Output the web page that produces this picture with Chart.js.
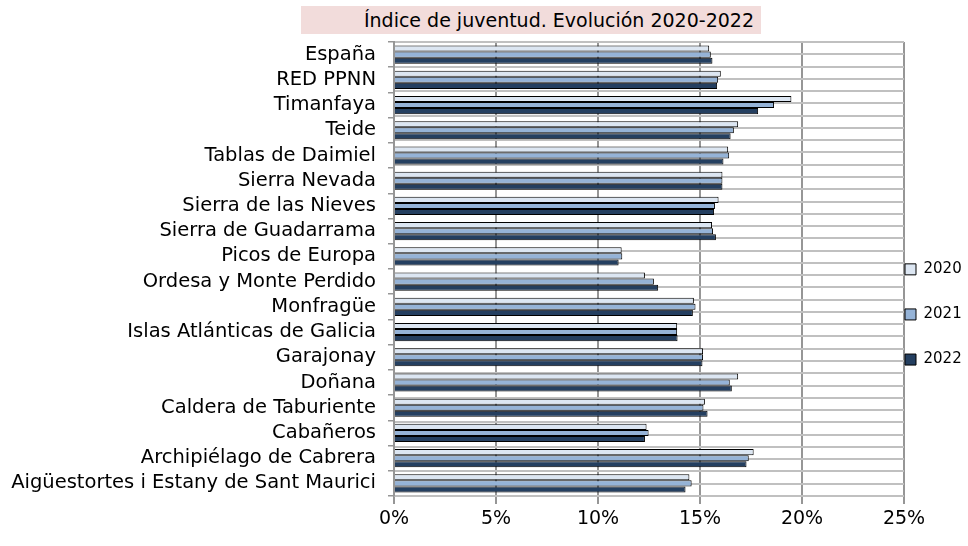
<!DOCTYPE html>
<html>
<head>
<meta charset="utf-8">
<script src="https://cdn.jsdelivr.net/npm/chart.js@4.4.0/dist/chart.umd.min.js"></script>
<style>
    html, body { margin: 0; padding: 0; background: #fff; }
    #wrap { position: relative; width: 968px; height: 546px; }
    #title {
        position: absolute; left: 301px; top: 6px; width: 453px; height: 28px;
        padding-right: 7px; background: #f2dcdb; color: #000;
        font-family: 'DejaVu Sans', sans-serif; font-size: 19px; line-height: 28px; text-align: right;
        white-space: nowrap;
    }
</style>
</head>
<body>
<div id="wrap">
    <canvas id="myChart" width="968" height="546"></canvas>
    <div id="title">Índice de juventud. Evolución 2020-2022</div>
</div>
<script>
// data (%)
let parks = ['España', 'RED PPNN', 'Timanfaya', 'Teide', 'Tablas de Daimiel', 'Sierra Nevada',
    'Sierra de las Nieves', 'Sierra de Guadarrama', 'Picos de Europa', 'Ordesa y Monte Perdido',
    'Monfragüe', 'Islas Atlánticas de Galicia', 'Garajonay', 'Doñana', 'Caldera de Taburiente',
    'Cabañeros', 'Archipiélago de Cabrera', 'Aigüestortes i Estany de Sant Maurici'];
let years = ['2020', '2021', '2022'];
let v2020 = [15.45, 16.02, 19.48, 16.87, 16.38, 16.10, 15.91, 15.59, 11.16, 12.30, 14.70, 13.88, 15.15, 16.87, 15.24, 12.38, 17.63, 14.48];
let v2021 = [15.53, 15.89, 18.63, 16.66, 16.43, 16.10, 15.73, 15.64, 11.19, 12.74, 14.78, 13.88, 15.15, 16.46, 15.17, 12.48, 17.39, 14.59];
let v2022 = [15.61, 15.84, 17.85, 16.50, 16.15, 16.10, 15.69, 15.78, 11.01, 12.95, 14.65, 13.90, 15.12, 16.56, 15.37, 12.30, 17.28, 14.29];
let xTicks = [0, 5, 10, 15, 20, 25];

let colors = ['#dce6f2', '#95b3d7', '#243f60'];
let fontFamily = "'DejaVu Sans', sans-serif";

let data = {
    labels: parks,
    datasets: [v2020, v2021, v2022].map(function (vals, k) {
        return {
            label: years[k],
            data: vals,
            backgroundColor: colors[k],
            borderColor: '#000',
            borderWidth: 1,
            categoryPercentage: 0.72,
            barPercentage: 1.0
        };
    })
};

let config = {
    type: 'bar',
    data: data,
    options: {
        responsive: false,
        animation: false,
        indexAxis: 'y',
        layout: { padding: { top: 42, left: 0, right: 0, bottom: 0 } },
        plugins: {
            tooltip: { enabled: false },
            legend: {
                position: 'right',
                maxWidth: 64,
                // empty title only pushes the items down
                title: { display: true, text: '', padding: 0, font: { size: 10, lineHeight: 7 } },
                labels: {
                    boxWidth: 11,
                    boxHeight: 11,
                    padding: 1,
                    color: '#000',
                    font: { family: fontFamily, size: 15, lineHeight: 2.94 },
                    generateLabels: function (chart) {
                        return Chart.defaults.plugins.legend.labels.generateLabels(chart).map(function (l) {
                            l.text = [l.text];
                            return l;
                        });
                    }
                }
            }
        },
        scales: {
            x: {
                min: 0,
                max: 25,
                afterBuildTicks: function (scale) {
                    scale.ticks = xTicks.map(function (v) { return { value: v }; });
                },
                afterFit: function (scale) { scale.height = 50; },
                ticks: {
                    color: '#000',
                    padding: 4,
                    font: { family: fontFamily, size: 19 },
                    callback: function (v) { return v + '%'; }
                },
                grid: { color: '#969696', lineWidth: 2, tickLength: 8 },
                border: { display: false }
            },
            y: {
                type: 'category',
                afterFit: function (scale) { scale.width = 394; },
                ticks: {
                    color: '#000',
                    padding: 12,
                    autoSkip: false,
                    font: { family: fontFamily, size: 19.5 }
                },
                grid: { offset: true, drawOnChartArea: false, color: '#969696', lineWidth: 1.5, tickLength: 6 },
                border: { display: true, color: '#969696', width: 2 }
            },
            // half-category horizontal gridlines
            yg: {
                type: 'linear',
                axis: 'y',
                position: 'left',
                min: 0,
                max: parks.length * 2,
                afterBuildTicks: function (scale) {
                    let t = [];
                    for (let n = 0; n <= parks.length * 2; n++) t.push({ value: n });
                    scale.ticks = t;
                },
                afterFit: function (scale) { scale.width = 0; },
                ticks: { display: false },
                grid: { color: '#c0c0c0', lineWidth: 2, drawTicks: false },
                border: { display: false }
            }
        }
    }
};

var myChart = new Chart(document.getElementById('myChart'), config);
</script>
</body>
</html>
